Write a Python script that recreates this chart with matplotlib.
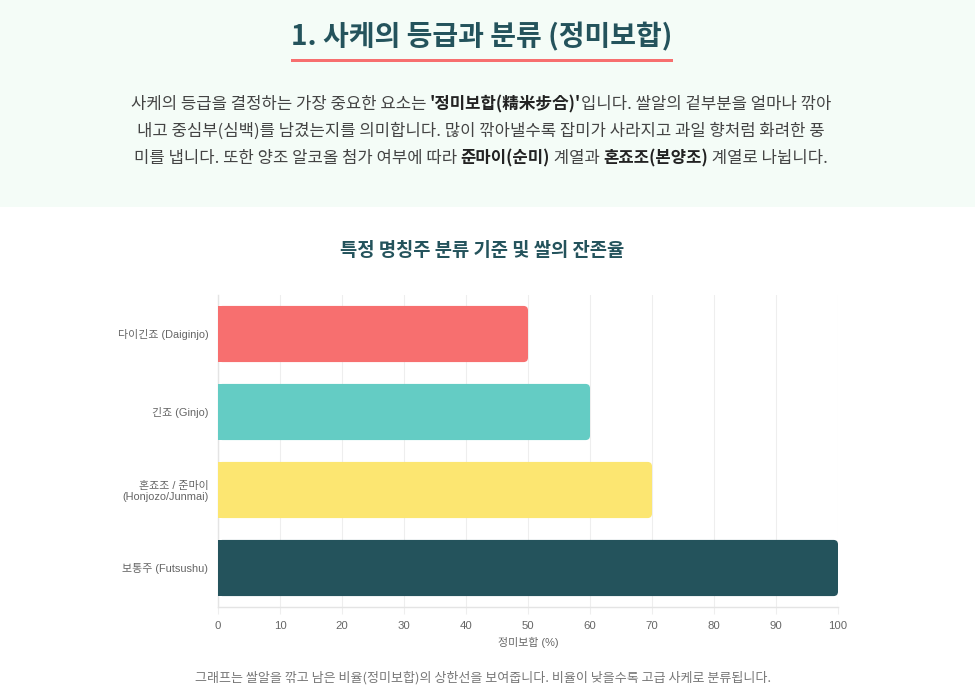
import matplotlib
matplotlib.use("Agg")
import matplotlib.pyplot as plt
from matplotlib.patches import Rectangle, FancyBboxPatch
from matplotlib.transforms import IdentityTransform

plt.rcParams['font.family'] = ['Noto Sans CJK KR', 'DejaVu Sans']

# ---- data ----
categories = ["다이긴죠 (Daiginjo)", "긴죠 (Ginjo)", "혼죠조 / 준마이\n(Honjozo/Junmai)", "보통주 (Futsushu)"]
values = [50, 60, 70, 100]
colors = ["#F76F6F", "#64CCC4", "#FCE671", "#24535C"]
xticks = [0, 10, 20, 30, 40, 50, 60, 70, 80, 90, 100]

heading = "1. 사케의 등급과 분류 (정미보합)"
para_lines = [
    [("사케의 등급을 결정하는 가장 중요한 요소는 ", False), ("'정미보합(精米步合)'", True), ("입니다. 쌀알의 겉부분을 얼마나 깎아", False)],
    [("내고 중심부(심백)를 남겼는지를 의미합니다. 많이 깎아낼수록 잡미가 사라지고 과일 향처럼 화려한 풍", False)],
    [("미를 냅니다. 또한 양조 알코올 첨가 여부에 따라 ", False), ("준마이(순미)", True), (" 계열과 ", False), ("혼죠조(본양조)", True), (" 계열로 나뉩니다.", False)],
]
chart_title = "특정 명칭주 분류 기준 및 쌀의 잔존율"
xlabel = "정미보합 (%)"
footer = "그래프는 쌀알을 깎고 남은 비율(정미보합)의 상한선을 보여줍니다. 비율이 낮을수록 고급 사케로 분류됩니다."

W, H = 975, 700
fig = plt.figure(figsize=(W / 100, H / 100), dpi=100)
fig.patch.set_facecolor("white")

# top band
fig.patches.append(Rectangle((0, 1 - 207 / H), 1, 207 / H, transform=fig.transFigure,
                             facecolor="#F4FCF7", edgecolor="none", zorder=0))

dark = "#24535C"
chart_font = ['Liberation Sans', 'Noto Sans CJK KR']

# heading
fig.text(482 / W, 1 - 37 / H, heading, ha="center", va="center", fontsize=20.2,
         fontweight="bold", color=dark)
fig.patches.append(Rectangle((291 / W, 1 - 62 / H), (673 - 291) / W, 3 / H,
                             transform=fig.transFigure, facecolor="#F76F6F",
                             edgecolor="none", zorder=2))

# paragraph with mixed weights
renderer = fig.canvas.get_renderer()
line_y = [104, 131, 158]
para_size = 12
for segs, yy in zip(para_lines, line_y):
    texts = []
    widths = []
    for s, b in segs:
        t = fig.text(0, 0, s, fontsize=para_size, fontweight="bold" if b else "normal",
                     color="#222222" if b else "#444444", va="center", ha="left",
                     transform=IdentityTransform())
        texts.append(t)
        widths.append(t.get_window_extent(renderer).width)
    total = sum(widths)
    x = 481 - total / 2
    for t, w in zip(texts, widths):
        t.set_position((x, H - yy))
        x += w

# chart title
fig.text(482 / W, 1 - 250 / H, chart_title, ha="center", va="center", fontsize=13.5,
         fontweight="bold", color=dark)

# axes
ax = fig.add_axes([218 / W, 1 - 607 / H, (838 - 218) / W, (607 - 295) / H])
ax.set_facecolor("white")
ypos = list(range(len(categories)))
bars = ax.barh(ypos, values, height=0.72, color=colors, zorder=3)
ax.set_xlim(0, 100)
ax.set_ylim(len(categories) - 0.5, -0.5)

# rounded right ends
bb = ax.get_window_extent(renderer)
px_x = bb.width / 100.0
px_y = bb.height / len(categories)
r_px = 4.5
for b in bars:
    x0, y0, w, h = b.get_x(), b.get_y(), b.get_width(), b.get_height()
    fc = b.get_facecolor()
    b.set_visible(False)
    rx = r_px / px_x
    ax.add_patch(FancyBboxPatch((x0, y0), w, h,
                                boxstyle=f"round,pad=0,rounding_size={rx}",
                                mutation_aspect=px_x / px_y,
                                facecolor=fc, edgecolor="none", zorder=3))
    ax.add_patch(Rectangle((x0, y0), w - 2 * rx, h, facecolor=fc,
                           edgecolor="none", zorder=3.1))

ax.set_yticks(ypos)
ax.set_yticklabels(categories, fontsize=7.9, color="#666666", linespacing=1.15,
                   family=chart_font)
ax.set_xticks(xticks)
ax.set_xticklabels([str(v) for v in xticks], fontsize=8.2, color="#666666",
                   family=chart_font)
ax.tick_params(axis="y", length=0, pad=7)
ax.tick_params(axis="x", length=5, color="#EEEEEE", pad=5)
ax.grid(axis="x", color="#EEEEEE", linewidth=0.8, zorder=0)
for sp in ["top", "right"]:
    ax.spines[sp].set_visible(False)
for sp in ["left", "bottom"]:
    ax.spines[sp].set_color("#E4E4E4")
    ax.spines[sp].set_linewidth(1.0)
ax.set_xlabel(xlabel, fontsize=7.9, color="#666666", labelpad=4, family=chart_font)

# footer
fig.text(483 / W, 1 - 678 / H, footer, ha="center", va="center", fontsize=9.4,
         color="#777777")

fig.savefig("out.png", dpi=100, facecolor="white")
